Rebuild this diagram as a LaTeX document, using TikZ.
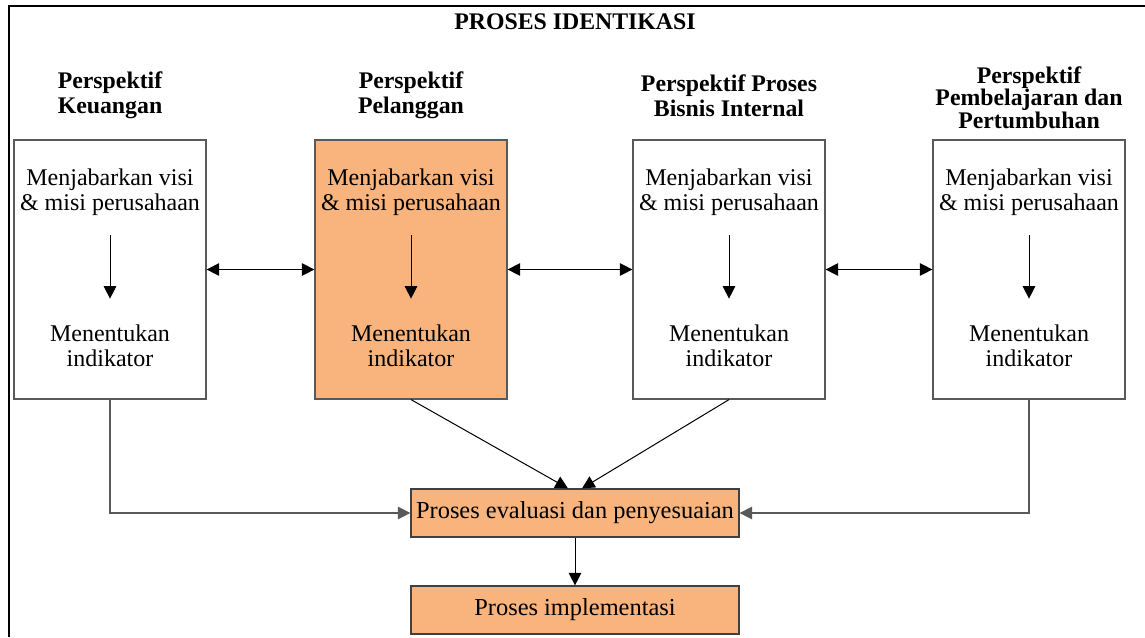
\documentclass[tikz,border=0pt]{standalone}
\usepackage{fontspec}
\setmainfont{Liberation Serif}
\usetikzlibrary{arrows.meta,calc}
\definecolor{boxorange}{HTML}{F8B47C}
\definecolor{edgegray}{HTML}{595959}
\begin{document}
\begin{tikzpicture}[x=0.5pt,y=-0.5pt,
  txt/.style={font=\fontsize{12}{12.5}\selectfont, align=center, inner sep=0pt},
  head/.style={txt, font=\fontsize{11.9}{12.5}\selectfont\bfseries},
  persp/.style={draw=edgegray, line width=0.6pt, minimum width=96pt, minimum height=129.5pt, inner sep=0pt},
  stage/.style={draw=black!75, line width=0.6pt, fill=boxorange, minimum width=164pt, minimum height=24pt, inner sep=0pt, font=\fontsize{12.2}{12.5}\selectfont},
  tip/.style={-{Triangle[length=6.3pt,width=6.3pt]}},
  dbl/.style={{Triangle[length=6.3pt,width=6.3pt]}-{Triangle[length=6.3pt,width=6.3pt]}},
  link/.style={line width=0.5pt, black},
  glink/.style={line width=0.6pt, edgegray}]
\useasboundingbox (0,0) rectangle (1145,637);
% cropped outer frame
\draw[line width=1pt] (9,637) -- (9,6) -- (1145,6);
\node[head] (title) at (575,22) {PROSES IDENTIKASI};

% perspective boxes
\node[persp] (k1) at (110,269.5) {};
\node[persp, fill=boxorange] (k2) at (411,269.5) {};
\node[persp] (k3) at (729,269.5) {};
\node[persp] (k4) at (1029,269.5) {};

% headings
\node[head] (h1) at (110,95.5) {Perspektif\\Keuangan};
\node[head] (h2) at (411,95.5) {Perspektif\\Pelanggan};
\node[head] (h3) at (729,95.5) {Perspektif Proses\\Bisnis Internal};
\node[head, font=\fontsize{11.9}{11.3}\selectfont\bfseries] (h4) at (1029,97.5) {Perspektif\\Pembelajaran dan\\Pertumbuhan};

% texts inside the boxes
\foreach \n/\x in {1/110,2/411,3/729,4/1029}{
  \node[txt] (t\n) at (\x,192.5) {Menjabarkan visi\\\& misi perusahaan};
  \node[txt] (b\n) at (\x,346) {Menentukan\\indikator};
  \draw[link, tip, shorten <=9.5pt, shorten >=13pt] (t\n.south) -- (b\n.north);
}

% links between perspectives
\draw[link, dbl] (k1) -- (k2);
\draw[link, dbl] (k2) -- (k3);
\draw[link, dbl] (k3) -- (k4);

% process stages
\node[stage] (eval) at (575,513) {Proses evaluasi dan penyesuaian};
\node[stage] (impl) at (575,610) {Proses implementasi};

\draw[link, tip] (k2.south) -- ($(eval.north)+(-7,0)$);
\draw[link, tip] (k3.south) -- ($(eval.north)+(7,0)$);
\draw[glink, tip] (k1.south) |- (eval.west);
\draw[glink, tip] (k4.south) |- (eval.east);
\draw[link, tip] (eval) -- (impl);
\end{tikzpicture}
\end{document}
